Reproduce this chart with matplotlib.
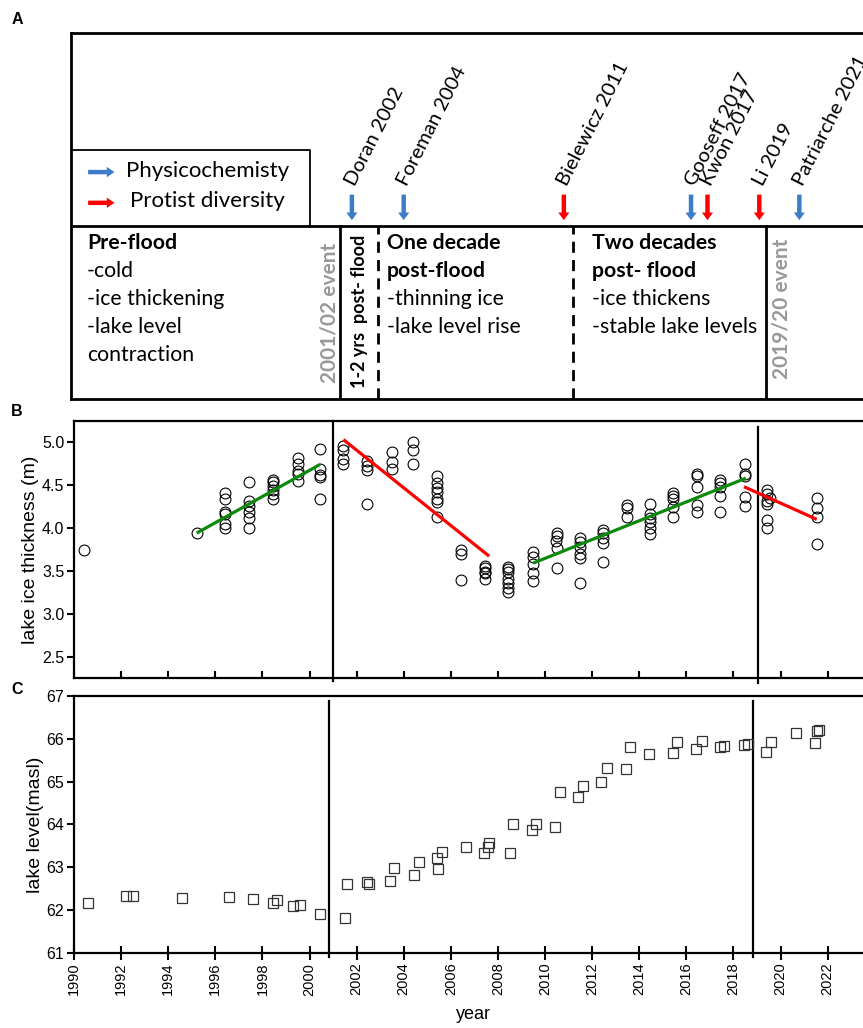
import numpy as np
import matplotlib
matplotlib.use('Agg')
import matplotlib.pyplot as plt

plt.rcParams['font.family'] = ['Liberation Sans', 'DejaVu Sans']

# ---- data -----------------------------------------------------------
# panel B: lake ice thickness (m)
ice_year = [1990.44,
            1995.21,
            1996.4, 1996.4, 1996.4, 1996.4, 1996.4, 1996.4,
            1997.43, 1997.43, 1997.43, 1997.43, 1997.43, 1997.43,
            1998.46, 1998.46, 1998.46, 1998.46, 1998.46, 1998.46,
            1999.5, 1999.5, 1999.5, 1999.5, 1999.5,
            2000.45, 2000.45, 2000.45, 2000.45, 2000.45,
            2001.44, 2001.44, 2001.44, 2001.44,
            2002.45, 2002.45, 2002.45, 2002.45,
            2003.49, 2003.49, 2003.49,
            2004.41, 2004.41, 2004.41,
            2005.43, 2005.43, 2005.43, 2005.43, 2005.43, 2005.43, 2005.43,
            2006.43, 2006.43, 2006.43,
            2007.45, 2007.45, 2007.45, 2007.45, 2007.45,
            2008.45, 2008.45, 2008.45, 2008.45, 2008.45, 2008.45, 2008.45,
            2009.5, 2009.5, 2009.5, 2009.5, 2009.5,
            2010.49, 2010.49, 2010.49, 2010.49, 2010.45,
            2011.49, 2011.49, 2011.49, 2011.49, 2011.49, 2011.49,
            2012.48, 2012.48, 2012.48, 2012.48, 2012.48,
            2013.47, 2013.47, 2013.47,
            2014.46, 2014.46, 2014.46, 2014.46, 2014.46, 2014.46,
            2015.42, 2015.42, 2015.42, 2015.42, 2015.42,
            2016.44, 2016.44, 2016.44, 2016.44, 2016.44,
            2017.43, 2017.43, 2017.43, 2017.43, 2017.43,
            2018.49, 2018.49, 2018.49, 2018.49, 2018.49,
            2019.41, 2019.41, 2019.41, 2019.41, 2019.41, 2019.41, 2019.55,
            2021.54, 2021.54, 2021.54, 2021.54]
ice_m = [3.74,
         3.94,
         4.41, 4.34, 4.18, 4.16, 4.05, 4.00,
         4.53, 4.31, 4.25, 4.19, 4.11, 4.00,
         4.56, 4.54, 4.49, 4.44, 4.40, 4.34,
         4.82, 4.74, 4.66, 4.63, 4.55,
         4.92, 4.69, 4.62, 4.59, 4.34,
         4.96, 4.91, 4.80, 4.74,
         4.78, 4.72, 4.68, 4.28,
         4.89, 4.77, 4.69,
         5.00, 4.91, 4.75,
         4.60, 4.52, 4.46, 4.42, 4.34, 4.30, 4.13,
         3.74, 3.70, 3.39,
         3.56, 3.53, 3.49, 3.47, 3.41,
         3.55, 3.52, 3.49, 3.40, 3.36, 3.30, 3.25,
         3.72, 3.66, 3.58, 3.47, 3.38,
         3.94, 3.90, 3.76, 3.53, 3.85,
         3.88, 3.84, 3.78, 3.69, 3.65, 3.36,
         3.98, 3.94, 3.88, 3.82, 3.60,
         4.27, 4.23, 4.13,
         4.28, 4.16, 4.12, 4.07, 4.00, 3.93,
         4.41, 4.37, 4.34, 4.24, 4.13,
         4.63, 4.60, 4.48, 4.27, 4.19,
         4.56, 4.52, 4.48, 4.37, 4.18,
         4.74, 4.63, 4.60, 4.36, 4.26,
         4.44, 4.39, 4.31, 4.28, 4.09, 4.00, 4.35,
         4.35, 4.23, 4.13, 3.81]

# trend segments
trend_x = [[1995.21, 2000.45], [2001.44, 2007.63], [2009.5, 2018.53], [2018.45, 2021.54]]
trend_y = [[3.94, 4.74], [5.03, 3.67], [3.59, 4.58], [4.48, 4.10]]
trend_col = ['#0b8a0b', '#ff0000', '#0b8a0b', '#ff0000']

# panel C: lake level (masl)
lvl_year = [1990.61, 1992.2, 1992.5, 1994.6, 1996.6, 1997.6, 1998.46, 1998.6,
            1999.3, 1999.6, 2000.46, 2001.5, 2001.6, 2002.44, 2002.54, 2003.4,
            2003.6, 2004.45, 2004.64, 2005.44, 2005.43, 2005.64, 2006.63,
            2007.40, 2007.58, 2007.64, 2008.5, 2008.63, 2009.45, 2009.62,
            2010.41, 2010.64, 2011.42, 2011.63, 2012.39, 2012.63, 2013.44,
            2013.62, 2014.42, 2015.45, 2015.62, 2016.43, 2016.65, 2017.45,
            2017.62, 2018.45, 2018.6, 2019.4, 2019.6, 2020.64, 2021.48,
            2021.56, 2021.62]
lvl_m = [62.18, 62.34, 62.34, 62.29, 62.30, 62.26, 62.16, 62.24,
         62.11, 62.12, 61.91, 61.83, 62.62, 62.65, 62.62, 62.68,
         62.98, 62.83, 63.13, 62.96, 63.21, 63.37, 63.48,
         63.33, 63.47, 63.56, 63.34, 64.00, 63.87, 64.00,
         63.94, 64.76, 64.65, 64.89, 64.99, 65.31, 65.30,
         65.80, 65.64, 65.66, 65.92, 65.76, 65.94, 65.80,
         65.84, 65.85, 65.87, 65.69, 65.92, 66.14, 65.89,
         66.17, 66.20]

# flood events (vertical lines)
event_b = [2001.0, 2019.06]
event_c = [2000.83, 2018.82]

# panel A: literature arrows and periods
refs = ['Doran 2002', 'Foreman 2004', 'Bielewicz 2011', 'Gooseff 2017',
        'Kwon 2017', 'Li 2019', 'Patriarche 2021']
ref_year = [2001.8, 2004.0, 2010.8, 2016.2, 2016.9, 2019.1, 2020.8]
ref_kind = ['phys', 'phys', 'prot', 'phys', 'prot', 'prot', 'phys']
kind_col = {'phys': '#3d7cc9', 'prot': '#ff0000'}
period_bounds = [2001.3, 2002.9, 2011.2, 2019.4]
period_style = ['-', '--', '--', '-']

years_ticks = list(range(1990, 2023, 2))

# ---- figure ----------------------------------------------------------
W, H = 863, 1028
fig = plt.figure(figsize=(W / 100, H / 100), dpi=100)


def box(l, t, r, b):
    return [l / W, 1 - b / H, (r - l) / W, (b - t) / H]


xlim = (1990, 1990 + (W - 74) / 23.55)
lw_sp = 1.6

# ---------- panel A ----------
axA = fig.add_axes(box(71, 33, W + 5, 399))
axA.set_xlim(1990 - 3 / 23.55, 1990 + (W + 5 - 74) / 23.55)
axA.set_ylim(0, 1)
axA.set_xticks([])
axA.set_yticks([])
for s in axA.spines.values():
    s.set_linewidth(2.0)
axA.spines['right'].set_visible(False)

afont = ['Lato', 'DejaVu Sans']
trans = axA.get_xaxis_transform()
ydiv = 0.4727
axA.axhline(ydiv, color='k', lw=2.0)
# legend box
axA.plot([0, 0.3005, 0.3005], [0.680, 0.680, ydiv], transform=axA.transAxes,
         color='k', lw=1.3)
for yy, kind, lab, tx in [(0.620, 'phys', 'Physicochemisty', 0.0694),
                          (0.536, 'prot', 'Protist diversity', 0.0745)]:
    axA.annotate('', xy=(0.058, yy), xytext=(0.018, yy), xycoords='axes fraction',
                 arrowprops=dict(arrowstyle='simple,head_width=0.75,head_length=0.55,tail_width=0.32',
                                 color=kind_col[kind], lw=0))
    axA.text(tx, yy + 0.004, lab, transform=axA.transAxes, family=afont,
             fontsize=16, ha='left', va='center')

for xb, ls in zip(period_bounds, period_style):
    if ls == '-':
        axA.plot([xb, xb], [0, ydiv], transform=trans, color='k', lw=2.0)
    else:
        axA.plot([xb, xb], [0, ydiv], transform=trans, color='k', lw=2.0,
                 dashes=(4, 2.6))

for name, yr, kind in zip(refs, ref_year, ref_kind):
    axA.annotate('', xy=(yr, 0.481), xytext=(yr, 0.566), xycoords=trans,
                 arrowprops=dict(arrowstyle='simple,head_width=0.8,head_length=0.55,tail_width=0.32',
                                 color=kind_col[kind], lw=0))
    axA.text(yr + 0.15, 0.578, name, transform=trans, family=afont, fontsize=14.6,
             rotation=63, rotation_mode='anchor', ha='left', va='baseline')

rows = [0.426, 0.350, 0.273, 0.197, 0.120]
blocks = [(0.0202, ['Pre-flood', '-cold', '-ice thickening', '-lake level', 'contraction'], 1),
          (0.3965, ['One decade', 'post-flood', '-thinning ice', '-lake level rise'], 2),
          (0.654, ['Two decades', 'post- flood', '-ice thickens', '-stable lake levels'], 2)]
for bx, lines, nbold in blocks:
    for i, line in enumerate(lines):
        axA.text(bx, rows[i], line, transform=axA.transAxes, family=afont,
                 fontsize=15.3, fontweight='bold' if i < nbold else 'normal',
                 ha='left', va='center')

axA.text(0.3245, 0.235, '2001/02 event', transform=axA.transAxes, family=afont,
         fontsize=15, fontweight='bold', color='#999999', rotation=90,
         ha='center', va='center')
axA.text(0.3624, 0.239, '1-2 yrs  post- flood', transform=axA.transAxes, family=afont,
         fontsize=13, fontweight='bold', color='k', rotation=90,
         ha='center', va='center')
axA.text(0.891, 0.246, '2019/20 event', transform=axA.transAxes, family=afont,
         fontsize=15, fontweight='bold', color='#999999', rotation=90,
         ha='center', va='center')

# ---------- panel B ----------
axB = fig.add_axes(box(74, 420.7, W, 678))
axB.set_xlim(*xlim)
axB.set_ylim(2.25, 5.25)
axB.plot(ice_year, ice_m, 'o', mfc='none', mec='k', ms=7.8, mew=0.8, zorder=3)
for xs, ys, c in zip(trend_x, trend_y, trend_col):
    axB.plot(xs, ys, color=c, lw=2.3, zorder=4, solid_capstyle='butt')
axB.axvline(event_b[0], ymin=-0.01, ymax=1.0, color='k', lw=1.6, clip_on=False)
axB.axvline(event_b[1], ymin=-0.02, ymax=0.975, color='k', lw=1.6, clip_on=False)
axB.set_yticks([2.5, 3.0, 3.5, 4.0, 4.5, 5.0])
axB.set_yticklabels(['2.5', '3.0', '3.5', '4.0', '4.5', '5.0'])
axB.set_xticks(years_ticks)
axB.set_xticklabels([])
axB.tick_params(axis='x', direction='in', length=5, width=1.5)
axB.tick_params(axis='y', direction='out', length=5, width=1.5, labelsize=11.5, pad=2)
axB.set_ylabel('lake ice thickness (m)', fontsize=14, labelpad=2)
for s in axB.spines.values():
    s.set_linewidth(lw_sp)
axB.spines['right'].set_visible(False)

# ---------- panel C ----------
axC = fig.add_axes(box(74, 695.7, W, 953.3))
axC.set_xlim(*xlim)
axC.set_ylim(61, 67)
axC.plot(lvl_year, lvl_m, 's', mfc='none', mec='#333333', ms=7.2, mew=0.9, zorder=3)
axC.axvline(event_c[0], ymin=-0.015, ymax=0.98, color='k', lw=1.6, clip_on=False)
axC.axvline(event_c[1], ymin=-0.015, ymax=0.98, color='k', lw=1.6, clip_on=False)
axC.set_xticks(years_ticks)
axC.set_xticklabels([str(y) for y in years_ticks], rotation=90)
axC.set_yticks(range(61, 68))
axC.tick_params(axis='x', direction='inout', length=9.5, width=1.5, labelsize=10.5, pad=2)
axC.tick_params(axis='y', direction='out', length=5, width=1.5, labelsize=11.5, pad=2)
axC.set_ylabel('lake level(masl)', fontsize=14, labelpad=2)
axC.set_xlabel('year', fontsize=13)
axC.xaxis.set_label_coords((473 - 74) / (W - 74), -0.205)
for s in axC.spines.values():
    s.set_linewidth(lw_sp)
axC.spines['right'].set_visible(False)

# panel letters
for lab, y in [('A', 20), ('B', 411), ('C', 690)]:
    fig.text(17 / W, 1 - y / H, lab, fontsize=11.5, fontweight='bold',
             ha='center', va='center')

fig.savefig('out.png', dpi=100)
